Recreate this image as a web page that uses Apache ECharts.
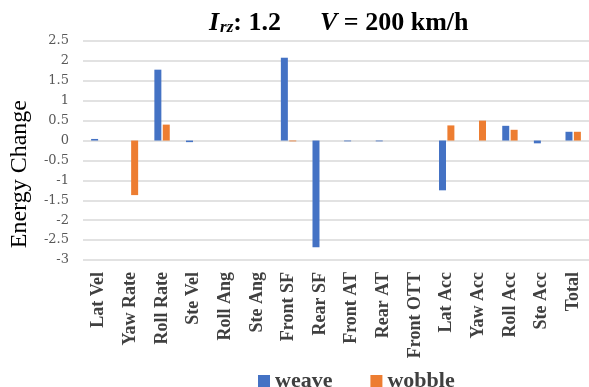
<!DOCTYPE html>
<html><head><meta charset="utf-8">
<script src="https://cdn.jsdelivr.net/npm/echarts@6/dist/echarts.min.js"></script>
<style>html,body{margin:0;padding:0;background:#fff}#c{width:589px;height:387px}</style>
</head><body><div id="c"></div>
<script>
const categories = ["Lat Vel","Yaw Rate","Roll Rate","Ste Vel","Roll Ang","Ste Ang","Front SF","Rear SF","Front AT","Rear AT","Front OTT","Lat Acc","Yaw Acc","Roll Acc","Ste Acc","Total"];
const weave  = [0.04, 0, 1.78, -0.04, 0, 0, 2.08, -2.68, -0.02, -0.02, 0, -1.25, 0, 0.37, -0.07, 0.22];
const wobble = [0, -1.37, 0.4, 0, 0, 0, -0.02, 0, 0, 0, 0, 0.38, 0.5, 0.27, 0, 0.22];
const yMin = -3, yMax = 2.5, yStep = 0.5;

const chart = echarts.init(document.getElementById('c'), null, {renderer:'canvas'});
const serif = "'Liberation Serif', 'DejaVu Serif', serif";
chart.setOption({
  animation: false,
  backgroundColor: '#fff',
  title: {
    left: 204, top: 5,
    text: '{i|I}{s|rz}{b|: 1.2      }{i|V}{b| = 200 km/h}',
    textStyle: {
      rich: {
        i: {fontFamily: serif, fontSize: 26, fontWeight: 'bold', fontStyle: 'italic', color: '#000'},
        s: {fontFamily: serif, fontSize: 17, fontWeight: 'bold', fontStyle: 'italic', color: '#000', verticalAlign: 'bottom', padding: [9,0,0,1]},
        b: {fontFamily: serif, fontSize: 26, fontWeight: 'bold', color: '#000'}
      }
    }
  },
  graphic: [{
    type: 'text', left: 8, top: 100, rotation: Math.PI/2,
    style: {text: 'Energy Change', fontFamily: serif, fontSize: 24, fill: '#000'}
  }],
  legend: {
    left: 253, top: 365, itemWidth: 12, itemHeight: 12, itemGap: 38,
    icon: 'rect',
    textStyle: {fontFamily: serif, fontSize: 22, fontWeight: 'bold', color: '#404040'},
    data: ['weave','wobble']
  },
  grid: {left: 83, right: 0, top: 41, bottom: 127, containLabel: false},
  xAxis: {
    type: 'category', data: categories,
    axisLine: {show: false}, axisTick: {show: false},
    axisLabel: {rotate: 90, interval: 0, margin: 12, fontFamily: serif, fontSize: 18, fontWeight: 'bold', color: '#404040'}
  },
  yAxis: {
    type: 'value', min: yMin, max: yMax, interval: yStep,
    axisLine: {show: false}, axisTick: {show: false},
    axisLabel: {fontFamily: "'DejaVu Serif', serif", fontSize: 13, color: '#595959', margin: 14},
    splitLine: {lineStyle: {color: '#d9d9d9', width: 1.5}}
  },
  series: [
    {name: 'weave', type: 'bar', data: weave, barWidth: 7, barGap: '20%', itemStyle: {color: '#4472C4'}},
    {name: 'wobble', type: 'bar', data: wobble, barWidth: 7, itemStyle: {color: '#ED7D31'}}
  ]
});
</script></body></html>
